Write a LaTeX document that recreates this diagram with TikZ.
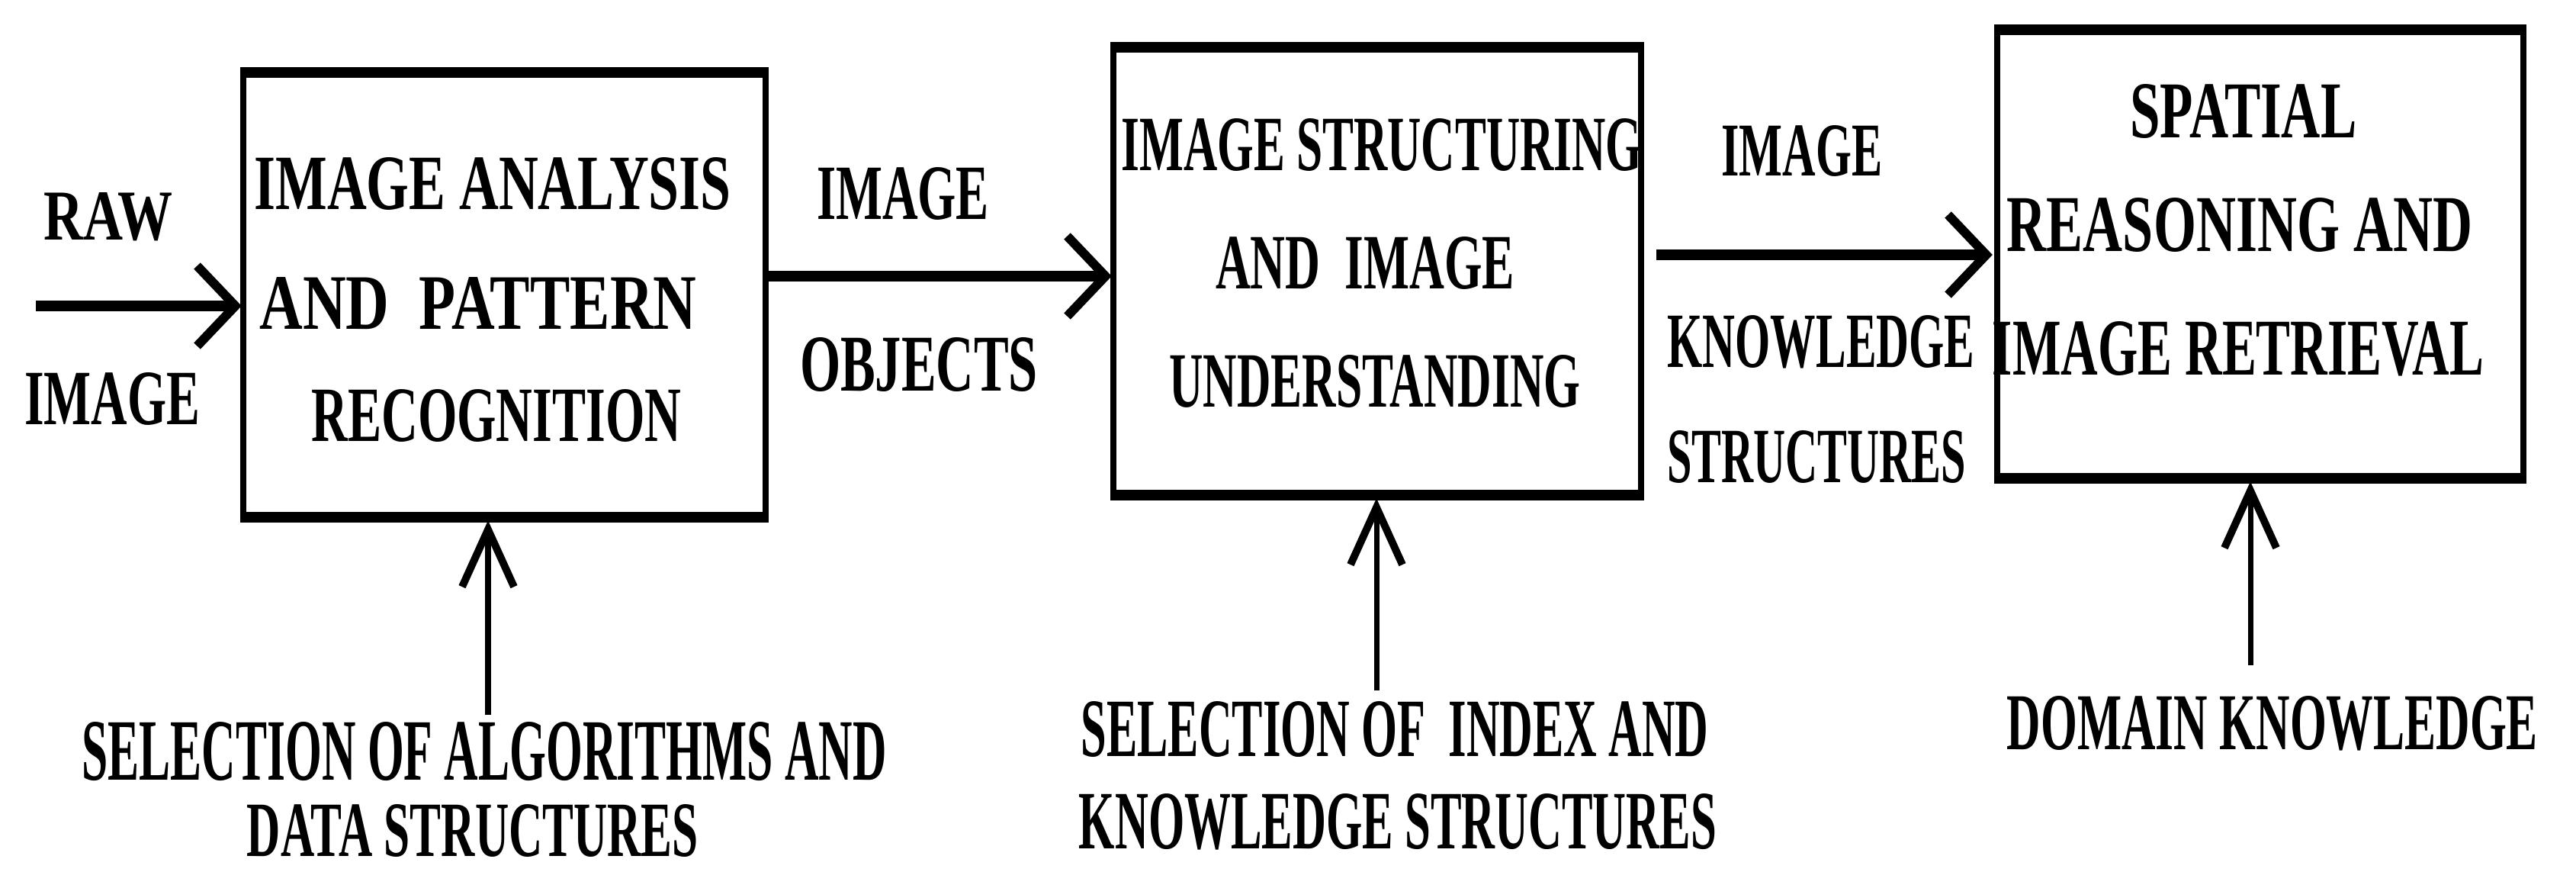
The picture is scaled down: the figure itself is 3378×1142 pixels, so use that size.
\documentclass[tikz,border=0pt]{standalone}
\usepackage{graphicx}
\usepackage{fontspec}
\setmainfont{Liberation Serif}
\newfontfamily\condfont{Liberation Serif}
\usetikzlibrary{arrows.meta}
\newlength\pxu
\setlength{\pxu}{0.01cm}
\newcommand{\capt}[3]{\resizebox{#1\pxu}{#2\pxu}{\condfont\bfseries #3}}
\tikzset{
  lbl/.style={inner sep=0pt, outer sep=0pt, anchor=center},
  blk/.style={draw, line width=2.4pt, inner sep=0pt, outer sep=0pt},
  edge/.style={line width=4pt},
  harrow/.style={line width=4pt, -{Straight Barb[length=0.5cm, width=1.05cm, line width=3.4pt]}},
  varrow/.style={line width=2pt, -{Straight Barb[length=0.75cm, width=0.68cm, line width=2.8pt]}}
}
\begin{document}
\begin{tikzpicture}[x=0.01cm, y=-0.01cm]
\useasboundingbox (0,0) rectangle (3378,1142);
% boxes
\node[blk, minimum width=6.85cm, minimum height=5.83cm] (b1) at (661.5,386.5) {};
\node[blk, minimum width=6.92cm, minimum height=5.87cm] (b2) at (1806,355.5) {};
\node[blk, minimum width=6.90cm, minimum height=5.88cm] (b3) at (2964,333) {};
\foreach \b in {b1,b2,b3}{
  \draw[edge] ([xshift=-1.2pt]\b.north west) -- ([xshift=1.2pt]\b.north east);
  \draw[edge] ([xshift=-1.2pt]\b.south west) -- ([xshift=1.2pt]\b.south east);
}
% box texts
\node[lbl] (t11) at (646,241) {\capt{625}{68}{IMAGE ANALYSIS}};
\node[lbl] (t12) at (627,398) {\capt{573}{68}{AND\ \ PATTERN}};
\node[lbl] (t13) at (651,545) {\capt{485}{68}{RECOGNITION}};
\node[lbl] (t21) at (1812,190) {\capt{683}{68}{IMAGE STRUCTURING}};
\node[lbl] (t22) at (1790,345) {\capt{392}{68}{AND\ \ IMAGE}};
\node[lbl] (t23) at (1803,500) {\capt{539}{68}{UNDERSTANDING}};
\node[lbl] (t31) at (2942,146) {\capt{297}{70}{SPATIAL}};
\node[lbl] (t32) at (2937,295) {\capt{610}{70}{REASONING AND}};
\node[lbl] (t33) at (2935,457) {\capt{644}{70}{IMAGE RETRIEVAL}};
% flow labels
\node[lbl] (raw1) at (142,284) {\capt{168}{62}{RAW}};
\node[lbl] (raw2) at (147,523) {\capt{230}{68}{IMAGE}};
\node[lbl] (o1) at (1184,254) {\capt{226}{68}{IMAGE}};
\node[lbl] (o2) at (1205,478) {\capt{312}{70}{OBJECTS}};
\node[lbl] (k1) at (2363,198) {\capt{211}{66}{IMAGE}};
\node[lbl] (k2) at (2388,448) {\capt{403}{68}{KNOWLEDGE}};
\node[lbl] (k3) at (2382,599) {\capt{392}{68}{STRUCTURES}};
% bottom labels
\node[lbl] (s11) at (635,985) {\capt{1055}{76}{SELECTION OF ALGORITHMS AND}};
\node[lbl] (s12) at (620,1089) {\capt{592}{68}{DATA STRUCTURES}};
\node[lbl] (s21) at (1829,956) {\capt{823}{72}{SELECTION OF\ \ INDEX AND}};
\node[lbl] (s22) at (1833,1077) {\capt{836}{72}{KNOWLEDGE STRUCTURES}};
\node[lbl] (s31) at (2980,948) {\capt{696}{70}{DOMAIN KNOWLEDGE}};
% connectors
\coordinate (rin) at (47,401);
\coordinate (y12) at (0,362);
\coordinate (y23) at (0,334);
\coordinate (v1) at (640,937);
\coordinate (v2) at (1805,905);
\coordinate (v3) at (2951,872);
\draw[harrow] (rin) -- ([xshift=-0.02cm]rin -| b1.west);
\draw[harrow] (b1.east |- y12) -- ([xshift=-0.02cm]b2.west |- y12);
\draw[harrow] ([xshift=0.2cm]b2.east |- y23) -- ([xshift=-0.06cm]b3.west |- y23);
\draw[varrow] (v1) -- ([yshift=-0.04cm]v1 |- b1.south);
\draw[varrow] (v2) -- ([yshift=-0.04cm]v2 |- b2.south);
\draw[varrow] (v3) -- ([yshift=-0.04cm]v3 |- b3.south);
\end{tikzpicture}
\end{document}
